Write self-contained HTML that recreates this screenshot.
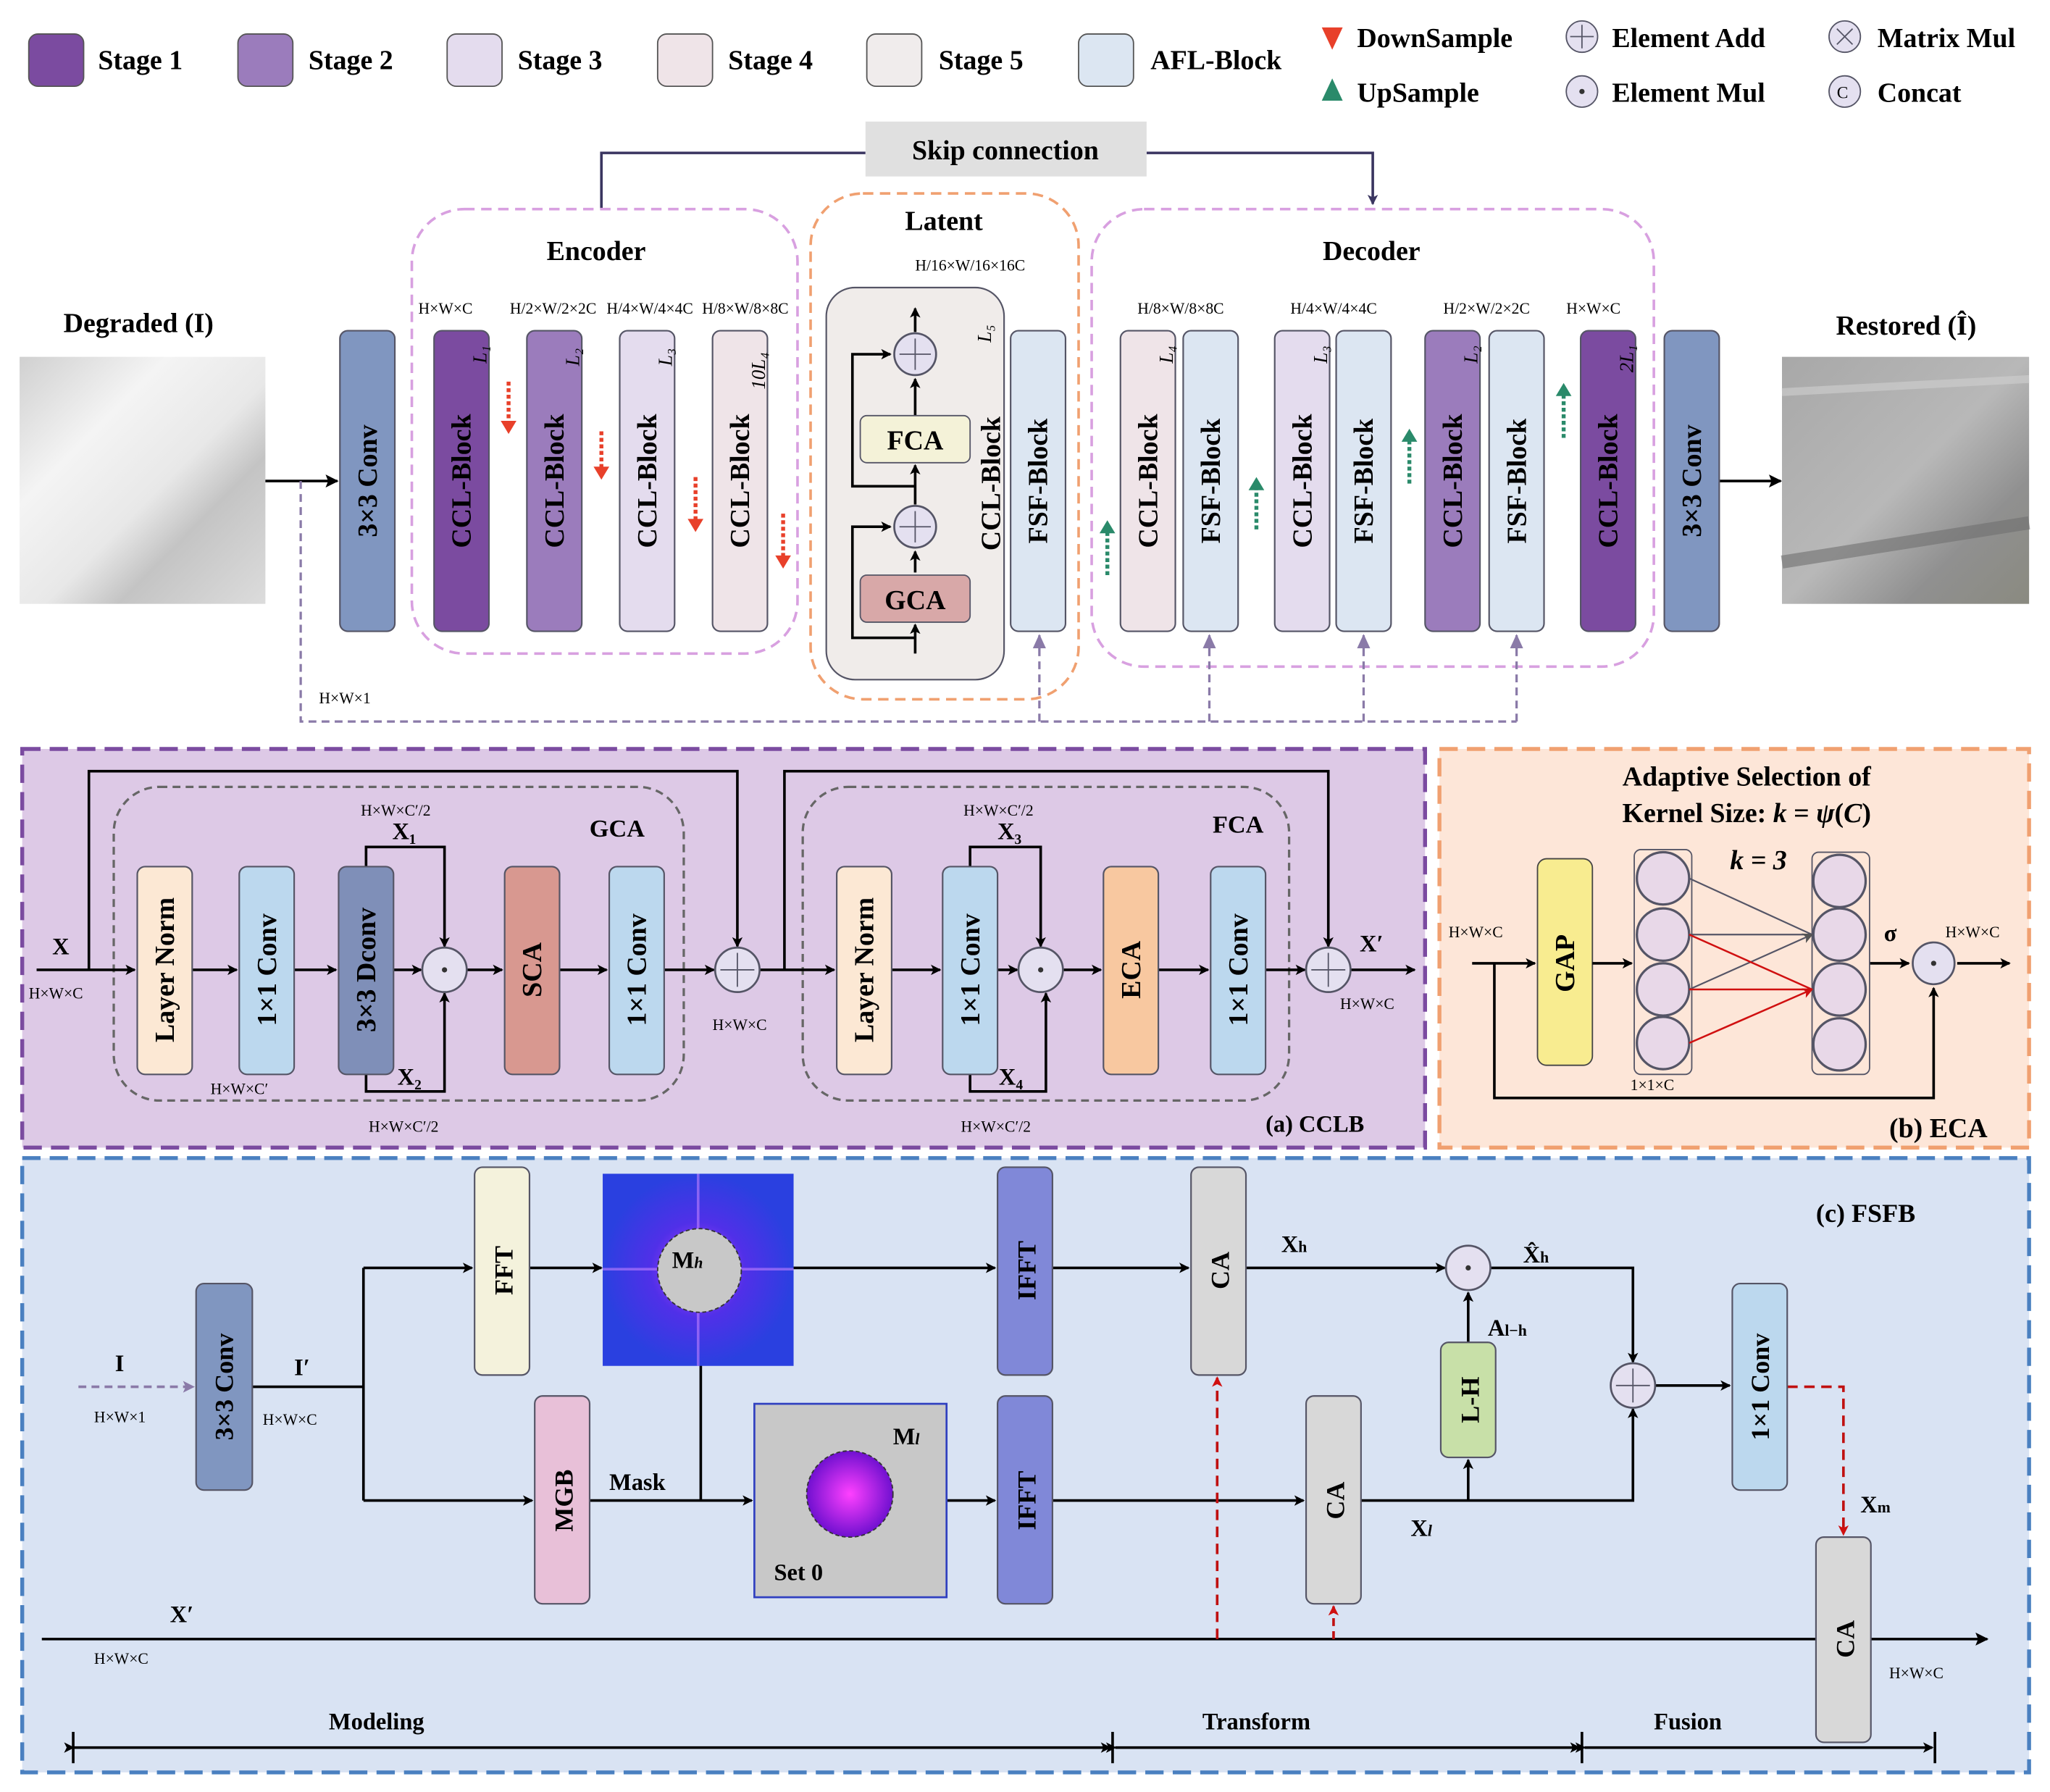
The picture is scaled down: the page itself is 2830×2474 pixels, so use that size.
<!DOCTYPE html>
<html><head><meta charset="utf-8"><style>html,body{margin:0;padding:0;background:#fff}svg{display:block}text{font-family:"Liberation Serif",serif}</style></head><body>
<svg width="2830" height="2474" viewBox="0 0 1568 1371" preserveAspectRatio="none" xmlns="http://www.w3.org/2000/svg">
<defs>
<marker id="a" markerWidth="8" markerHeight="8" refX="7" refY="4" orient="auto" markerUnits="userSpaceOnUse"><path d="M0,0 L8,4 L0,8 L2,4z" fill="#000"/></marker>
<marker id="ab" markerWidth="10" markerHeight="10" refX="9" refY="5" orient="auto" markerUnits="userSpaceOnUse"><path d="M0,0 L10,5 L0,10 L2,5z" fill="#000"/></marker>
<marker id="ap" markerWidth="9" markerHeight="9" refX="8" refY="4.5" orient="auto" markerUnits="userSpaceOnUse"><path d="M0,0 L9,4.5 L0,9 L2,4.5z" fill="#8a7aa8"/></marker>
<marker id="ar" markerWidth="8" markerHeight="8" refX="7" refY="4" orient="auto" markerUnits="userSpaceOnUse"><path d="M0,0 L8,4 L0,8 L2,4z" fill="#d01010"/></marker>
<marker id="ad" markerWidth="8" markerHeight="8" refX="7" refY="4" orient="auto" markerUnits="userSpaceOnUse"><path d="M0,0 L8,4 L0,8 L2,4z" fill="#3a3560"/></marker>
<marker id="ag" markerWidth="8" markerHeight="8" refX="7" refY="4" orient="auto" markerUnits="userSpaceOnUse"><path d="M0,0 L8,4 L0,8 L2,4z" fill="#555"/></marker>
<linearGradient id="deg" x1="0" y1="0" x2="1" y2="1"><stop offset="0" stop-color="#d0d0d0"/><stop offset=".3" stop-color="#f4f4f4"/><stop offset=".55" stop-color="#e8e8e8"/><stop offset=".7" stop-color="#c4c4c4"/><stop offset="1" stop-color="#dcdcdc"/></linearGradient>
<linearGradient id="res" x1="0" y1="0" x2="1" y2="1"><stop offset="0" stop-color="#a8a8a8"/><stop offset=".5" stop-color="#b8b8b8"/><stop offset=".75" stop-color="#909090"/><stop offset="1" stop-color="#8a8a80"/></linearGradient>
<radialGradient id="spec"><stop offset="0" stop-color="#c040ff"/><stop offset=".5" stop-color="#5030e8"/><stop offset="1" stop-color="#2a40e0"/></radialGradient>
<radialGradient id="ml"><stop offset="0" stop-color="#ff40ff"/><stop offset="1" stop-color="#7010d0"/></radialGradient>
</defs>
<style>.b{font-weight:bold;fill:#000}.s{font-size:12px;font-family:"DejaVu Sans",sans-serif}.ln{stroke:#000;stroke-width:2;fill:none}</style>

<g class="b" font-size="21">
<rect x="22" y="26" width="42" height="40" rx="7" fill="#7b4ba0" stroke="#555"/><text x="75" y="53">Stage 1</text>
<rect x="182" y="26" width="42" height="40" rx="7" fill="#9b7cbc" stroke="#555"/><text x="236" y="53">Stage 2</text>
<rect x="342" y="26" width="42" height="40" rx="7" fill="#e4dcee" stroke="#555"/><text x="396" y="53">Stage 3</text>
<rect x="503" y="26" width="42" height="40" rx="7" fill="#efe4e8" stroke="#555"/><text x="557" y="53">Stage 4</text>
<rect x="663" y="26" width="42" height="40" rx="7" fill="#f0ecec" stroke="#555"/><text x="718" y="53">Stage 5</text>
<rect x="825" y="26" width="42" height="40" rx="7" fill="#dce6f2" stroke="#555"/><text x="880" y="53">AFL-Block</text>
<path d="M1011,21 L1027,21 L1019,38z" fill="#e8402a"/><text x="1038" y="36">DownSample</text>
<path d="M1011,77 L1027,77 L1019,60z" fill="#2a8a6a"/><text x="1038" y="78">UpSample</text>
<circle cx="1210" cy="28" r="12" fill="#e4e0f0" stroke="#556"/><path d="M1210,19v18M1201,28h18" stroke="#556"/><text x="1233" y="36">Element Add</text>
<circle cx="1210" cy="70" r="12" fill="#e4e0f0" stroke="#556"/><circle cx="1210" cy="70" r="2" fill="#333"/><text x="1233" y="78">Element Mul</text>
<circle cx="1411" cy="28" r="12" fill="#e4e0f0" stroke="#556"/><path d="M1405,22l12,12M1417,22l-12,12" stroke="#556"/><text x="1436" y="36">Matrix Mul</text>
<circle cx="1411" cy="70" r="12" fill="#e4e0f0" stroke="#556"/><text x="1405" y="75" font-size="13" font-weight="normal">C</text><text x="1436" y="78">Concat</text>
</g>

<path d="M460,160 V117 H662 M877,117 H1050 V156" stroke="#3a3560" stroke-width="2" fill="none" marker-end="url(#ad)"/>
<rect x="662" y="93" width="215" height="42" fill="#e0e0e0"/>
<text x="769" y="122" text-anchor="middle" class="b" font-size="21">Skip connection</text>

<rect x="315" y="160" width="295" height="340" rx="40" fill="none" stroke="#d8a0e0" stroke-width="2" stroke-dasharray="8,5"/>
<rect x="620" y="148" width="205" height="387" rx="40" fill="none" stroke="#f0a070" stroke-width="2" stroke-dasharray="8,5"/>
<rect x="835" y="160" width="430" height="350" rx="40" fill="none" stroke="#d8a0e0" stroke-width="2" stroke-dasharray="8,5"/>
<text x="456" y="199" text-anchor="middle" class="b" font-size="21">Encoder</text>
<text x="722" y="176" text-anchor="middle" class="b" font-size="21">Latent</text>
<text x="1049" y="199" text-anchor="middle" class="b" font-size="21">Decoder</text>

<text x="106" y="254" text-anchor="middle" class="b" font-size="21">Degraded (I)</text>
<rect x="15" y="273" width="188" height="189" fill="url(#deg)"/>
<text x="1458" y="256" text-anchor="middle" class="b" font-size="21">Restored (Î)</text>
<rect x="1363" y="273" width="189" height="189" fill="url(#res)"/>
<path d="M1363,430 L1552,400" stroke="#707070" stroke-width="10" opacity=".6"/>
<path d="M1363,300 L1552,290" stroke="#d0d0d0" stroke-width="6" opacity=".6"/>

<path d="M203,368 H258" class="ln" marker-end="url(#ab)"/>
<path d="M1315,368 H1362" class="ln" marker-end="url(#ab)"/>

<g stroke="#556" stroke-width="1.2">
<rect x="260" y="253" width="42" height="230" rx="6" fill="#8096c0"/>
<rect x="332" y="253" width="42" height="230" rx="6" fill="#7b4ba0"/>
<rect x="403" y="253" width="42" height="230" rx="6" fill="#9b7cbc"/>
<rect x="474" y="253" width="42" height="230" rx="6" fill="#e4dcee"/>
<rect x="545" y="253" width="42" height="230" rx="6" fill="#efe4e8"/>
<rect x="632" y="220" width="136" height="300" rx="22" fill="#f0ecea"/>
<rect x="773" y="253" width="42" height="230" rx="6" fill="#dce6f2"/>
<rect x="857" y="253" width="42" height="230" rx="6" fill="#efe4e8"/>
<rect x="905" y="253" width="42" height="230" rx="6" fill="#dce6f2"/>
<rect x="975" y="253" width="42" height="230" rx="6" fill="#e4dcee"/>
<rect x="1022" y="253" width="42" height="230" rx="6" fill="#dce6f2"/>
<rect x="1090" y="253" width="42" height="230" rx="6" fill="#9b7cbc"/>
<rect x="1139" y="253" width="42" height="230" rx="6" fill="#dce6f2"/>
<rect x="1209" y="253" width="42" height="230" rx="6" fill="#7b4ba0"/>
<rect x="1273" y="253" width="42" height="230" rx="6" fill="#8096c0"/>
</g>
<g class="b" font-size="21">
<text transform="translate(288,368) rotate(-90)" text-anchor="middle">3×3 Conv</text>
<text transform="translate(360,368) rotate(-90)" text-anchor="middle">CCL-Block</text>
<text transform="translate(431,368) rotate(-90)" text-anchor="middle">CCL-Block</text>
<text transform="translate(502,368) rotate(-90)" text-anchor="middle">CCL-Block</text>
<text transform="translate(573,368) rotate(-90)" text-anchor="middle">CCL-Block</text>
<text transform="translate(765,370) rotate(-90)" text-anchor="middle">CCL-Block</text>
<text transform="translate(801,368) rotate(-90)" text-anchor="middle">FSF-Block</text>
<text transform="translate(885,368) rotate(-90)" text-anchor="middle">CCL-Block</text>
<text transform="translate(933,368) rotate(-90)" text-anchor="middle">FSF-Block</text>
<text transform="translate(1003,368) rotate(-90)" text-anchor="middle">CCL-Block</text>
<text transform="translate(1050,368) rotate(-90)" text-anchor="middle">FSF-Block</text>
<text transform="translate(1118,368) rotate(-90)" text-anchor="middle">CCL-Block</text>
<text transform="translate(1167,368) rotate(-90)" text-anchor="middle">FSF-Block</text>
<text transform="translate(1237,368) rotate(-90)" text-anchor="middle">CCL-Block</text>
<text transform="translate(1301,368) rotate(-90)" text-anchor="middle">3×3 Conv</text>
</g>
<g font-style="italic" font-size="15">
<text transform="translate(372,278) rotate(-90)">L₁</text>
<text transform="translate(443,280) rotate(-90)">L₂</text>
<text transform="translate(514,280) rotate(-90)">L₃</text>
<text transform="translate(585,298) rotate(-90)">10L₄</text>
<text transform="translate(758,262) rotate(-90)">L₅</text>
<text transform="translate(897,278) rotate(-90)">L₄</text>
<text transform="translate(1015,278) rotate(-90)">L₃</text>
<text transform="translate(1130,278) rotate(-90)">L₂</text>
<text transform="translate(1249,285) rotate(-90)">2L₁</text>
</g>
<g class="s">
<text x="320" y="240">H×W×C</text>
<text x="390" y="240">H/2×W/2×2C</text>
<text x="464" y="240">H/4×W/4×4C</text>
<text x="537" y="240">H/8×W/8×8C</text>
<text x="700" y="207">H/16×W/16×16C</text>
<text x="870" y="240">H/8×W/8×8C</text>
<text x="987" y="240">H/4×W/4×4C</text>
<text x="1104" y="240">H/2×W/2×2C</text>
<text x="1198" y="240">H×W×C</text>
<text x="244" y="538">H×W×1</text>
</g>
<g stroke-width="3" stroke-dasharray="3,2">
<path d="M389,292 V325" stroke="#e8402a"/><path d="M460,330 V360" stroke="#e8402a"/><path d="M532,365 V400" stroke="#e8402a"/><path d="M599,393 V428" stroke="#e8402a"/>
<path d="M847,440 V405" stroke="#2a8a6a"/><path d="M961,405 V372" stroke="#2a8a6a"/><path d="M1078,370 V335" stroke="#2a8a6a"/><path d="M1196,335 V300" stroke="#2a8a6a"/>
</g>
<g><path d="M383,322h12l-6,10z M454,357h12l-6,10z M526,397h12l-6,10z M593,425h12l-6,10z" fill="#e8402a"/>
<path d="M841,408h12l-6,-10z M955,375h12l-6,-10z M1072,338h12l-6,-10z M1190,303h12l-6,-10z" fill="#2a8a6a"/></g>
<path d="M700,500 V478" class="ln" marker-end="url(#a)"/>
<path d="M700,438 V422" class="ln" marker-end="url(#a)"/>
<path d="M700,386 V356" class="ln" marker-end="url(#a)"/>
<path d="M700,318 V290" class="ln" marker-end="url(#a)"/>
<path d="M700,254 V236" class="ln" marker-end="url(#a)"/>
<path d="M700,488 H652 V403 H681" class="ln" marker-end="url(#a)"/>
<path d="M700,372 H652 V271 H681" class="ln" marker-end="url(#a)"/>
<rect x="658" y="318" width="84" height="36" rx="5" fill="#f4f2d8" stroke="#556"/>
<rect x="658" y="440" width="84" height="36" rx="5" fill="#d8a8a8" stroke="#556"/>
<text x="700" y="344" text-anchor="middle" class="b" font-size="21">FCA</text>
<text x="700" y="466" text-anchor="middle" class="b" font-size="21">GCA</text>
<circle cx="700" cy="271" r="16" fill="#e4e0f0" stroke="#556" stroke-width="1.5"/><path d="M700,259v24M688,271h24" stroke="#556"/>
<circle cx="700" cy="403" r="16" fill="#e4e0f0" stroke="#556" stroke-width="1.5"/><path d="M700,391v24M688,403h24" stroke="#556"/>
<path d="M230,368 V552 H1160" stroke="#8a7aa8" stroke-width="1.8" fill="none" stroke-dasharray="6,4"/>
<path d="M795,552 V486 M925,552 V486 M1043,552 V486 M1160,552 V486" stroke="#8a7aa8" stroke-width="1.8" fill="none" stroke-dasharray="6,4"/>
<path d="M790,496 L795,485 L800,496z M920,496 L925,485 L930,496z M1038,496 L1043,485 L1048,496z M1155,496 L1160,485 L1165,496z" fill="#8a7aa8"/>

<rect x="17" y="573" width="1073" height="305" fill="#ddc9e6" stroke="#7b4ba0" stroke-width="3" stroke-dasharray="14,7"/>
<rect x="87" y="602" width="436" height="240" rx="35" fill="none" stroke="#666" stroke-width="1.8" stroke-dasharray="6,4"/>
<rect x="614" y="602" width="372" height="240" rx="35" fill="none" stroke="#666" stroke-width="1.8" stroke-dasharray="6,4"/>
<text x="472" y="640" text-anchor="middle" class="b" font-size="19">GCA</text>
<text x="947" y="637" text-anchor="middle" class="b" font-size="19">FCA</text>
<path d="M28,742 H103" class="ln" marker-end="url(#a)"/>
<path d="M147,742 H181" class="ln" marker-end="url(#a)"/>
<path d="M225,742 H257" class="ln" marker-end="url(#a)"/>
<path d="M301,742 H322" class="ln" marker-end="url(#a)"/>
<path d="M357,742 H384" class="ln" marker-end="url(#a)"/>
<path d="M428,742 H464" class="ln" marker-end="url(#a)"/>
<path d="M508,742 H546" class="ln" marker-end="url(#a)"/>
<path d="M68,742 V590 H564 V724" class="ln" marker-end="url(#a)"/>
<path d="M581,742 H638" class="ln" marker-end="url(#a)"/>
<path d="M600,742 V590 H1016 V724" class="ln" marker-end="url(#a)"/>
<path d="M682,742 H719" class="ln" marker-end="url(#a)"/>
<path d="M763,742 H778" class="ln" marker-end="url(#a)"/>
<path d="M813,742 H842" class="ln" marker-end="url(#a)"/>
<path d="M886,742 H924" class="ln" marker-end="url(#a)"/>
<path d="M968,742 H998" class="ln" marker-end="url(#a)"/>
<path d="M1033,742 H1082" class="ln" marker-end="url(#a)"/>
<path d="M280,663 V648 H340 V724" class="ln" marker-end="url(#a)"/>
<path d="M280,822 V835 H340 V760" class="ln" marker-end="url(#a)"/>
<path d="M742,663 V648 H796 V724" class="ln" marker-end="url(#a)"/>
<path d="M742,822 V835 H800 V760" class="ln" marker-end="url(#a)"/>
<g stroke="#556" stroke-width="1.2">
<rect x="105" y="663" width="42" height="159" rx="6" fill="#fce8d4"/>
<rect x="183" y="663" width="42" height="159" rx="6" fill="#bcd8ee"/>
<rect x="259" y="663" width="42" height="159" rx="6" fill="#7f8fb8"/>
<rect x="386" y="663" width="42" height="159" rx="6" fill="#d89890"/>
<rect x="466" y="663" width="42" height="159" rx="6" fill="#bcd8ee"/>
<rect x="640" y="663" width="42" height="159" rx="6" fill="#fce8d4"/>
<rect x="721" y="663" width="42" height="159" rx="6" fill="#bcd8ee"/>
<rect x="844" y="663" width="42" height="159" rx="6" fill="#f8c8a0"/>
<rect x="926" y="663" width="42" height="159" rx="6" fill="#bcd8ee"/>
</g>
<g class="b" font-size="21">
<text transform="translate(133,742) rotate(-90)" text-anchor="middle">Layer Norm</text>
<text transform="translate(211,742) rotate(-90)" text-anchor="middle">1×1 Conv</text>
<text transform="translate(287,742) rotate(-90)" text-anchor="middle">3×3 Dconv</text>
<text transform="translate(414,742) rotate(-90)" text-anchor="middle">SCA</text>
<text transform="translate(494,742) rotate(-90)" text-anchor="middle">1×1 Conv</text>
<text transform="translate(668,742) rotate(-90)" text-anchor="middle">Layer Norm</text>
<text transform="translate(749,742) rotate(-90)" text-anchor="middle">1×1 Conv</text>
<text transform="translate(872,742) rotate(-90)" text-anchor="middle">ECA</text>
<text transform="translate(954,742) rotate(-90)" text-anchor="middle">1×1 Conv</text>
</g>
<g fill="#e4e0f0" stroke="#556" stroke-width="1.5">
<circle cx="340" cy="742" r="17"/><circle cx="564" cy="742" r="17"/><circle cx="796" cy="742" r="17"/><circle cx="1016" cy="742" r="17"/>
</g>
<path d="M564,729v26M551,742h26M1016,729v26M1003,742h26" stroke="#556"/>
<circle cx="340" cy="742" r="2" fill="#333"/><circle cx="796" cy="742" r="2" fill="#333"/>
<g class="b" font-size="18">
<text x="40" y="730">X</text><text x="300" y="642">X₁</text><text x="304" y="830">X₂</text>
<text x="763" y="642">X₃</text><text x="764" y="830">X₄</text><text x="1040" y="728">X′</text>
<text x="968" y="866">(a)  CCLB</text>
</g>
<g class="s">
<text x="22" y="764">H×W×C</text><text x="161" y="837">H×W×C′</text><text x="276" y="624">H×W×C′/2</text>
<text x="282" y="866">H×W×C′/2</text><text x="545" y="788">H×W×C</text><text x="737" y="624">H×W×C′/2</text>
<text x="735" y="866">H×W×C′/2</text><text x="1025" y="772">H×W×C</text>
</g>

<rect x="1101" y="573" width="451" height="305" fill="#fde6d8" stroke="#f0a070" stroke-width="3" stroke-dasharray="14,7"/>
<text x="1336" y="601" text-anchor="middle" class="b" font-size="21">Adaptive Selection of</text>
<text x="1336" y="629" text-anchor="middle" class="b" font-size="21">Kernel Size: <tspan font-style="italic">k</tspan> = <tspan font-style="italic">ψ</tspan>(<tspan font-style="italic">C</tspan>)</text>
<text x="1345" y="665" text-anchor="middle" class="b" font-size="21" font-style="italic">k = 3</text>
<rect x="1176" y="657" width="42" height="158" rx="7" fill="#f8ec90" stroke="#444"/>
<text transform="translate(1204,737) rotate(-90)" text-anchor="middle" class="b" font-size="21">GAP</text>
<path d="M1126,737 H1174" class="ln" marker-end="url(#a)"/>
<path d="M1218,737 H1248" class="ln" marker-end="url(#a)"/>
<path d="M1143,737 V840 H1479 V756" class="ln" marker-end="url(#a)"/>
<path d="M1430,737 H1460" class="ln" marker-end="url(#a)"/>
<path d="M1497,737 H1537" class="ln" marker-end="url(#a)"/>
<rect x="1250" y="650" width="44" height="172" rx="5" fill="none" stroke="#556"/>
<rect x="1386" y="652" width="44" height="170" rx="5" fill="none" stroke="#556"/>
<g fill="#e8d8e8" stroke="#556" stroke-width="1.8">
<circle cx="1272" cy="672" r="20"/><circle cx="1272" cy="715" r="20"/><circle cx="1272" cy="757" r="20"/><circle cx="1272" cy="798" r="20"/>
<circle cx="1407" cy="674" r="20"/><circle cx="1407" cy="715" r="20"/><circle cx="1407" cy="757" r="20"/><circle cx="1407" cy="799" r="20"/>
</g>
<path d="M1292,672 L1386,715 M1292,715 L1386,715 M1292,757 L1386,715" stroke="#556" stroke-width="1.2" marker-end="url(#ag)"/>
<path d="M1292,715 L1386,757 M1292,757 L1386,757 M1292,798 L1386,757" stroke="#d01010" stroke-width="1.4" marker-end="url(#ar)"/>
<circle cx="1479" cy="737" r="16" fill="#e4e0f0" stroke="#556" stroke-width="1.5"/><circle cx="1479" cy="737" r="2" fill="#333"/>
<text x="1441" y="720" class="b" font-size="18">σ</text>
<g class="s"><text x="1108" y="717">H×W×C</text><text x="1488" y="717">H×W×C</text><text x="1247" y="834">1×1×C</text></g>
<text x="1445" y="870" class="b" font-size="21">(b)  ECA</text>

<rect x="17" y="886" width="1535" height="470" fill="#d9e3f3" stroke="#4a80c0" stroke-width="3" stroke-dasharray="14,7"/>
<text x="1389" y="935" class="b" font-size="20">(c)  FSFB</text>
<path d="M60,1061 H148" stroke="#8a7aa8" stroke-width="2" stroke-dasharray="6,4" marker-end="url(#ap)"/>
<path d="M193,1061 H278 V970 M278,1061 V1148" class="ln"/>
<path d="M278,970 H361" class="ln" marker-end="url(#a)"/>
<path d="M278,1148 H407" class="ln" marker-end="url(#a)"/>
<path d="M405,970 H460" class="ln" marker-end="url(#a)"/>
<path d="M607,970 H761" class="ln" marker-end="url(#a)"/>
<path d="M805,970 H909" class="ln" marker-end="url(#a)"/>
<path d="M953,970 H1105" class="ln" marker-end="url(#a)"/>
<path d="M451,1148 H575" class="ln" marker-end="url(#a)"/>
<path d="M536,1148 V1005" class="ln" marker-end="url(#a)"/>
<path d="M724,1148 H761" class="ln" marker-end="url(#a)"/>
<path d="M805,1148 H997" class="ln" marker-end="url(#a)"/>
<path d="M1041,1148 H1249 V1078" class="ln" marker-end="url(#a)"/>
<path d="M1123,1148 V1117" class="ln" marker-end="url(#a)"/>
<path d="M1123,1027 V989" class="ln" marker-end="url(#a)"/>
<path d="M1140,970 H1249 V1042" class="ln" marker-end="url(#a)"/>
<path d="M1266,1060 H1323" class="ln" marker-end="url(#a)"/>
<path d="M32,1254 H1520" class="ln" marker-end="url(#ab)"/>
<path d="M1367,1061 H1410 V1174" stroke="#c01010" stroke-width="2" stroke-dasharray="8,5" fill="none" marker-end="url(#ar)"/>
<path d="M931,1254 V1054" stroke="#c01010" stroke-width="2" stroke-dasharray="8,5" marker-end="url(#ar)"/>
<path d="M1020,1254 V1229" stroke="#c01010" stroke-width="2" stroke-dasharray="6,4" marker-end="url(#ar)"/>
<g stroke="#556" stroke-width="1.2">
<rect x="150" y="982" width="43" height="158" rx="6" fill="#8096c0"/>
<rect x="363" y="893" width="42" height="159" rx="6" fill="#f4f2dc"/>
<rect x="763" y="893" width="42" height="159" rx="6" fill="#8088d8"/>
<rect x="911" y="893" width="42" height="159" rx="6" fill="#d8d8d8"/>
<rect x="409" y="1068" width="42" height="159" rx="6" fill="#e8c0d8"/>
<rect x="763" y="1068" width="42" height="159" rx="6" fill="#8088d8"/>
<rect x="999" y="1068" width="42" height="159" rx="6" fill="#d8d8d8"/>
<rect x="1102" y="1027" width="42" height="88" rx="6" fill="#c8e0a8"/>
<rect x="1325" y="982" width="42" height="158" rx="6" fill="#bcd8ee"/>
<rect x="1389" y="1176" width="42" height="157" rx="6" fill="#d8d8d8"/>
</g>
<rect x="461" y="898" width="146" height="147" fill="url(#spec)"/>
<path d="M461,971 H607 M534,898 V1045" stroke="#c080ff" stroke-width="2" opacity=".6"/>
<circle cx="535" cy="972" r="32" fill="#c8c8c8" stroke="#333" stroke-dasharray="3,2"/>
<rect x="577" y="1074" width="147" height="148" fill="#c8c8c8" stroke="#3040c0" stroke-width="1.5"/>
<circle cx="650" cy="1143" r="33" fill="url(#ml)" stroke="#333" stroke-dasharray="3,2"/>
<g class="b" font-size="20">
<text transform="translate(392,972) rotate(-90)" text-anchor="middle">FFT</text>
<text transform="translate(792,972) rotate(-90)" text-anchor="middle">IFFT</text>
<text transform="translate(940,972) rotate(-90)" text-anchor="middle">CA</text>
<text transform="translate(178,1061) rotate(-90)" text-anchor="middle">3×3 Conv</text>
<text transform="translate(438,1148) rotate(-90)" text-anchor="middle">MGB</text>
<text transform="translate(792,1148) rotate(-90)" text-anchor="middle">IFFT</text>
<text transform="translate(1028,1148) rotate(-90)" text-anchor="middle">CA</text>
<text transform="translate(1131,1071) rotate(-90)" text-anchor="middle">L-H</text>
<text transform="translate(1353,1061) rotate(-90)" text-anchor="middle">1×1 Conv</text>
<text transform="translate(1418,1254) rotate(-90)" text-anchor="middle">CA</text>
</g>
<circle cx="1123" cy="970" r="17" fill="#e4e0f0" stroke="#556" stroke-width="1.5"/><circle cx="1123" cy="970" r="2" fill="#333"/>
<circle cx="1249" cy="1060" r="17" fill="#e4e0f0" stroke="#556" stroke-width="1.5"/><path d="M1249,1047v26M1236,1060h26" stroke="#556"/>
<g class="b" font-size="18">
<text x="514" y="970">M<tspan font-size="12" font-style="italic">h</tspan></text>
<text x="683" y="1105">M<tspan font-size="12" font-style="italic">l</tspan></text>
<text x="592" y="1209">Set 0</text>
<text x="88" y="1049">I</text><text x="225" y="1052">I′</text><text x="466" y="1140">Mask</text>
<text x="980" y="958">X<tspan font-size="12">h</tspan></text><text x="1165" y="966">X̂<tspan font-size="12">h</tspan></text>
<text x="1138" y="1022">A<tspan font-size="12">l−h</tspan></text><text x="1079" y="1175">X<tspan font-size="12" font-style="italic">l</tspan></text>
<text x="1423" y="1157">X<tspan font-size="12">m</tspan></text><text x="130" y="1241">X′</text>
<text x="288" y="1323" text-anchor="middle">Modeling</text><text x="961" y="1323" text-anchor="middle">Transform</text><text x="1291" y="1323" text-anchor="middle">Fusion</text>
</g>
<g class="s"><text x="72" y="1088">H×W×1</text><text x="201" y="1090">H×W×C</text><text x="72" y="1273">H×W×C</text><text x="1445" y="1284">H×W×C</text></g>
<path d="M56,1337 H849" class="ln" marker-start="url(#a)" marker-end="url(#a)"/>
<path d="M853,1337 H1208" class="ln" marker-start="url(#a)" marker-end="url(#a)"/>
<path d="M1212,1337 H1478" class="ln" marker-start="url(#a)" marker-end="url(#a)"/>
<path d="M56,1325 V1349 M851,1325 V1349 M1210,1325 V1349 M1480,1325 V1349" stroke="#000" stroke-width="2"/>
</svg>
</body></html>
